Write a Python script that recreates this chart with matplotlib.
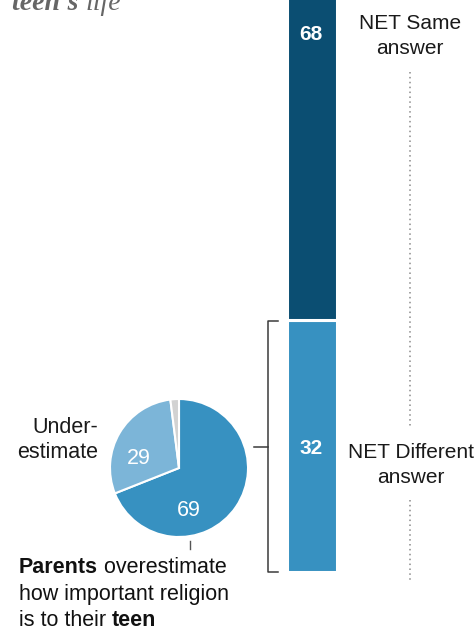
import matplotlib
matplotlib.use("Agg")
import matplotlib.pyplot as plt

plt.rcParams['font.family'] = ['Liberation Sans', 'DejaVu Sans']

# Data
bar_labels = ["NET Different\nanswer", "NET Same\nanswer"]
bar_values = [32, 68]
bar_colors = ["#3791c1", "#0b4e72"]

pie_labels = ["Overestimate", "Underestimate", "Other"]
pie_values = [69, 29, 2]
pie_colors = ["#3791c1", "#7cb5d8", "#d2d2d2"]

W, H = 475, 630
fig = plt.figure(figsize=(W / 100, H / 100), dpi=100)
fig.patch.set_facecolor("white")
renderer = fig.canvas.get_renderer()

def fig_rect(left, top, width, height):
    return [left / W, (H - top - height) / H, width / W, height / H]

# Stacked bar (100% scale); its top runs past the figure edge
bar_bottom_px = 572
px_per_pt = 252 / bar_values[0]
bar_height_px = px_per_pt * 100
axb = fig.add_axes(fig_rect(287, bar_bottom_px - bar_height_px, 50, bar_height_px))
axb.set_xlim(0, 1)
axb.set_ylim(0, 100)
axb.axis("off")
base = 0
for v, c in zip(bar_values, bar_colors):
    axb.bar(0.5, v, width=1.0, bottom=base, color=c, edgecolor="white", linewidth=2.2)
    base += v

# Pie chart
cx, cy, r = 179, 468, 69
axp = fig.add_axes(fig_rect(cx - r, cy - r, 2 * r, 2 * r))
axp.pie(pie_values, colors=pie_colors, startangle=90, counterclock=False,
        wedgeprops=dict(edgecolor="white", linewidth=1.5), radius=1.0)
axp.set_xlim(-1, 1)
axp.set_ylim(-1, 1)
axp.set_aspect("equal")
axp.axis("off")

# Overlay axes in pixel coordinates for annotations, drawn on top
ax = fig.add_axes([0, 0, 1, 1])
ax.set_xlim(0, W)
ax.set_ylim(H, 0)
ax.axis("off")
ax.patch.set_alpha(0)

# Value labels on the bar
ax.text(311, 449, f"{bar_values[0]}", ha="center", va="center",
        color="white", fontsize=15, fontweight="bold")
ax.text(311, 35, f"{bar_values[1]}", ha="center", va="center",
        color="white", fontsize=15, fontweight="bold")

# Category labels to the right
ax.text(410, 36, bar_labels[1], ha="center", va="center", fontsize=15,
        color="#1a1a1a", linespacing=1.35)
ax.text(411, 465, bar_labels[0], ha="center", va="center", fontsize=15,
        color="#1a1a1a", linespacing=1.35)

# Dotted guide lines
ax.plot([410, 410], [72, 428], color="#8a8a8a", linestyle=(0, (1, 2.2)), linewidth=1.1)
ax.plot([410, 410], [500, 583], color="#8a8a8a", linestyle=(0, (1, 2.2)), linewidth=1.1)

# Bracket linking the pie to the "different" segment
bc = "#3a3a3a"
ax.plot([278, 268, 268, 278], [321, 321, 572, 572], color=bc, linewidth=1.1)
ax.plot([254, 268], [447, 447], color=bc, linewidth=1.1)

# Pie slice values
ax.text(139, 458, f"{pie_values[1]}", ha="center", va="center", color="white", fontsize=15.5)
ax.text(189, 511, f"{pie_values[0]}", ha="center", va="center", color="white", fontsize=15.5)

ax.text(98, 440, "Under-\nestimate", ha="right", va="center", fontsize=15.5,
        color="#1a1a1a", linespacing=1.2)

# Leader tick under the pie
ax.plot([190, 190], [541, 549], color="#555555", linewidth=1)


def run_text(x, y, parts, size, color, **kw):
    """Draw a line made of differently styled pieces placed side by side."""
    for s, style in parts:
        t = ax.text(x, y, s, ha="left", va="baseline", fontsize=size, color=color, **style, **kw)
        bb = t.get_window_extent(renderer=renderer)
        x += bb.width
    return x


# Caption below the pie
cap_size = 15.5
bold = {"fontweight": "bold"}
plain = {}
run_text(19, 573, [("Parents", bold), (" overestimate", plain)], cap_size, "#111111")
run_text(19, 600, [("how important religion", plain)], cap_size, "#111111")
run_text(19, 626, [("is to their ", plain), ("teen", bold)], cap_size, "#111111")

# Title fragment at the top edge
serif = {"family": "Liberation Serif"}
run_text(12, 10, [("teen's ", {"fontweight": "bold", "fontstyle": "italic", **serif}),
                  ("life", {"fontstyle": "italic", **serif})], 20, "#666666")

fig.savefig("out.png", dpi=100, facecolor="white")
